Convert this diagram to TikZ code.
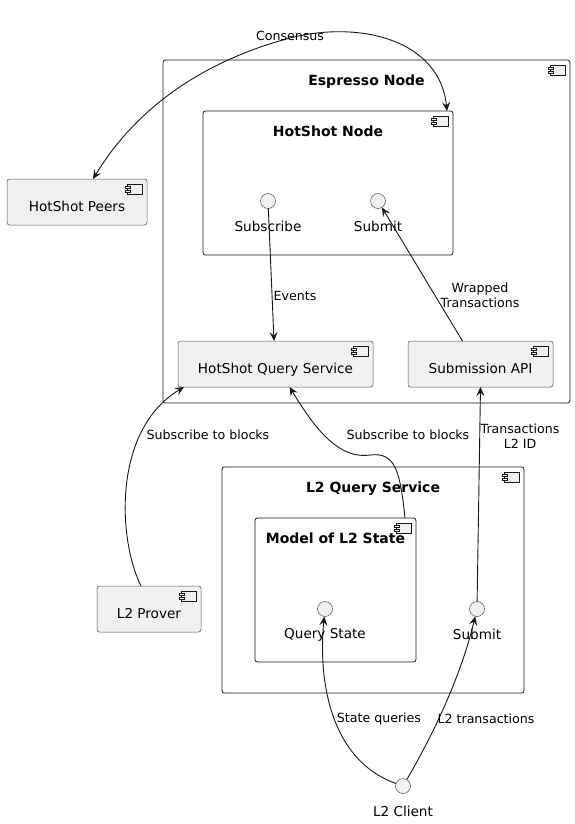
\documentclass[tikz,border=0pt]{standalone}
\usepackage{fontspec}
\setmainfont{DejaVu Sans}
\usepackage{tikz}
\usetikzlibrary{arrows.meta,positioning,calc}
\definecolor{umlline}{HTML}{181818}
\definecolor{umlfill}{HTML}{F1F1F1}
\tikzset{umltip/.tip={Stealth[length=9pt,width=8pt,inset=3.5pt]}}
% small component glyph in the top right corner of a node
\newcommand{\compicon}[1]{%
  \draw[icon] ($(#1.north east)+(-5,5)$) rectangle ++(-15,10);
  \draw[icon] ($(#1.north east)+(-22,7)$) rectangle ++(5,2.5);
  \draw[icon] ($(#1.north east)+(-22,11)$) rectangle ++(5,2.5);}

\begin{document}
\begin{tikzpicture}[
        x=1pt,y=-1pt,
        every node/.style={font=\fontsize{13.6}{16}\selectfont,align=center},
        container/.style={draw=umlline,line width=0.8pt,rounded corners=2.5pt,
                   fill=white,inner sep=0pt,outer sep=0pt},
        frametitle/.style={font=\bfseries\fontsize{14}{16}\selectfont,inner sep=0pt},
        comp/.style={draw=umlline!75,line width=0.5pt,rounded corners=2.5pt,fill=umlfill,
                   minimum height=46pt,text height=20pt,text depth=1pt,inner sep=0pt,outer sep=0pt},
        port/.style={circle,draw=umlline!75,line width=0.5pt,fill=umlfill,
                   minimum size=15pt,inner sep=0pt,outer sep=0pt},
        portname/.style={inner sep=0pt},
        tag/.style={font=\fontsize{12.6}{15}\selectfont,inner sep=1pt},
        icon/.style={draw=umlline,line width=0.6pt,fill=umlfill},
        flow/.style={-umltip,draw=umlline,line width=0.9pt}
    ]
        \useasboundingbox (0,0) rectangle (575,824);
        % Espresso node
        \node[container,minimum width=407pt,minimum height=343pt,anchor=north west] (espresso) at (163,60) {};
        \node[frametitle,below=15pt of espresso.north] (espresso-t) {Espresso Node};
        \compicon{espresso}
        \node[container,minimum width=250pt,minimum height=144pt,anchor=north west] (hotshot) at (203,111) {};
        \node[frametitle,below=15pt of hotshot.north] (hotshot-t) {HotShot Node};
        \compicon{hotshot}
        \node[port] (hs-sub) at (268,201) {};
        \node[portname,below=12pt of hs-sub] (hs-sub-l) {Subscribe};
        \node[port] (hs-submit) at (378,201) {};
        \node[portname,below=12pt of hs-submit] (hs-submit-l) {Submit};
        \node[comp,minimum width=195pt] (hqs) at (275.5,364) {HotShot Query Service};
        \compicon{hqs}
        \node[comp,minimum width=145pt] (subapi) at (480.5,364) {Submission API};
        \compicon{subapi}
        \node[comp,minimum width=140pt] (peers) at (77,202) {HotShot Peers};
        \compicon{peers}
        % L2 query service
        \node[container,minimum width=302pt,minimum height=226pt,anchor=north west] (l2qs) at (222,467) {};
        \node[frametitle,below=15pt of l2qs.north] (l2qs-t) {L2 Query Service};
        \compicon{l2qs}
        \node[container,minimum width=161pt,minimum height=144pt,anchor=north west] (model) at (255,518) {};
        \node[frametitle,below=15pt of model.north] (model-t) {Model of L2 State};
        \compicon{model}
        \node[port] (query) at (325,609) {};
        \node[portname,below=12pt of query] (query-l) {Query State};
        \node[port] (l2-submit) at (477,609) {};
        \node[portname,below=12pt of l2-submit] (l2-submit-l) {Submit};
        \node[comp,minimum width=104pt] (prover) at (149,609) {L2 Prover};
        \compicon{prover}
        \node[port] (client) at (403,786) {};
        \node[portname,below=12pt of client] (client-l) {L2 Client};
        % connectors
        \draw[flow,umltip-umltip] ([xshift=16pt]peers.north) .. controls (135,110) and (200,62) .. (290,38)
            .. controls (360,20) and (440,40) .. ([xshift=-6pt]hotshot.north east);
        \node[tag] (consensus-l) at (290,36) {Consensus};
        \draw[flow] (hs-sub) -- ([xshift=-1.5pt]hqs.north);
        \node[tag] (events-l) at (295,296) {Events};
        \draw[flow] ([xshift=-18pt]subapi.north) -- (hs-submit);
        \node[tag] (wrapped-l) at (480,295) {Wrapped\\Transactions};
        \draw[flow] ([xshift=-8pt]prover.north) .. controls (118,540) and (112,430) .. ([xshift=6pt]hqs.south west);
        \node[tag] (prover-sub-l) at (208,435) {Subscribe to blocks};
        \draw[flow] ([xshift=-11pt]model.north east) .. controls (400,470) and (395,452) .. (370,455)
            .. controls (335,460) and (310,420) .. ([xshift=14pt]hqs.south);
        \node[tag] (model-sub-l) at (408,435) {Subscribe to blocks};
        \draw[flow] (l2-submit) -- (subapi.south);
        \node[tag] (tx-l) at (520,436) {Transactions\\L2 ID};
        \draw[flow] (client) .. controls (330,760) and (318,680) .. (query);
        \node[tag] (queries-l) at (379,719) {State queries};
        \draw[flow] (client) .. controls (430,740) and (460,680) .. (l2-submit);
        \node[tag] (l2tx-l) at (486,719) {L2 transactions};
    \end{tikzpicture}
\end{document}
